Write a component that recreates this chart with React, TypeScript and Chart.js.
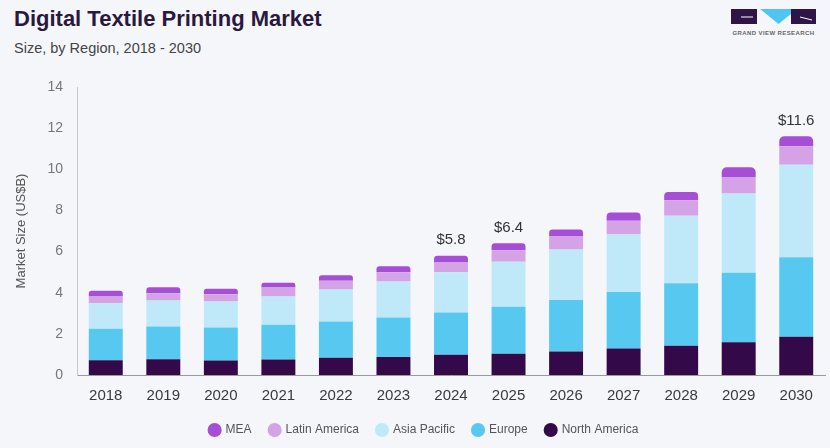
import React, { useEffect, useRef } from "react";
import { Chart, registerables } from "chart.js";

Chart.register(...registerables);

// Market size by region, US$ billion
const years = ["2018", "2019", "2020", "2021", "2022", "2023", "2024", "2025", "2026", "2027", "2028", "2029", "2030"];
const northAmerica = [0.72, 0.77, 0.70, 0.75, 0.84, 0.87, 0.98, 1.03, 1.14, 1.29, 1.42, 1.59, 1.86];
const europe = [1.53, 1.59, 1.61, 1.69, 1.76, 1.93, 2.06, 2.29, 2.50, 2.75, 3.04, 3.38, 3.87];
const asiaPacific = [1.24, 1.26, 1.26, 1.38, 1.56, 1.75, 1.96, 2.18, 2.46, 2.82, 3.28, 3.85, 4.49];
const latinAmerica = [0.33, 0.36, 0.36, 0.43, 0.42, 0.45, 0.47, 0.57, 0.63, 0.64, 0.76, 0.78, 0.90];
const mea = [0.27, 0.29, 0.26, 0.23, 0.27, 0.29, 0.33, 0.33, 0.34, 0.40, 0.39, 0.50, 0.48];
// Years whose total is printed above the bar
const labelledYears = ["2024", "2025", "2030"];
const yTicks = [0, 2, 4, 6, 8, 10, 12, 14];

const BG = "#f4f6fa";
const FONT = "'Liberation Sans', Arial, Helvetica, sans-serif";
// Legend keeps wide horizontal spacing but sits closer to the axis labels
const LEGEND_TIGHTEN = 11;
const LEGEND_SHIFT_X = 6;

const totalLabels = {
  id: "totalLabels",
  afterDatasetsDraw(chart: any) {
    const { ctx } = chart;
    const top = chart.getDatasetMeta(chart.data.datasets.length - 1);
    ctx.save();
    ctx.font = `15px ${FONT}`;
    ctx.fillStyle = "#333333";
    ctx.textAlign = "center";
    ctx.textBaseline = "bottom";
    years.forEach((y, i) => {
      if (!labelledYears.includes(y)) return;
      const total =
        northAmerica[i] + europe[i] + asiaPacific[i] + latinAmerica[i] + mea[i];
      const el = top.data[i];
      ctx.fillText(`$${total.toFixed(1)}`, el.x, el.y - 8);
    });
    ctx.restore();
  },
};

const legendSpacing = {
  id: "legendSpacing",
  beforeLayout(chart: any) {
    const lg = chart.legend;
    if (lg && !lg._tightened) {
      const fit = lg.fit;
      lg.fit = function () {
        fit.call(this);
        this.height -= LEGEND_TIGHTEN;
      };
      lg._tightened = true;
    }
  },
  afterLayout(chart: any) {
    const lg = chart.legend;
    if (lg) {
      lg.top -= LEGEND_TIGHTEN;
      lg.height += LEGEND_TIGHTEN;
      lg.left += LEGEND_SHIFT_X;
      lg.right += LEGEND_SHIFT_X;
    }
  },
};

function Logo() {
  return (
    <svg width={100} height={40} style={{ position: "absolute", left: 724, top: 4 }}>
      <rect x={7} y={5} width={26} height={15} fill="#2f1447" />
      <path d="M17 13 H29" stroke="#ffffff" strokeWidth={1} />
      <polygon points="36,5 73,5 54.5,20" fill="#4fc6f1" />
      <rect x={67} y={5} width={25} height={15} fill="#2f1447" />
      <path d="M76 13 L88 16" stroke="#ffffff" strokeWidth={1} />
      <text
        x={49.5}
        y={31}
        textAnchor="middle"
        fontFamily={FONT}
        fontSize={6}
        fontWeight="bold"
        fill="#666"
        letterSpacing={0.4}
      >
        GRAND VIEW RESEARCH
      </text>
    </svg>
  );
}

export default function App() {
  const canvasRef = useRef<HTMLCanvasElement | null>(null);

  useEffect(() => {
    document.body.style.margin = "0";
    document.body.style.background = BG;
    const canvas = canvasRef.current;
    if (!canvas) return;
    const mk = (label: string, data: number[], color: string, extra: any = {}) => ({
      label,
      data,
      backgroundColor: color,
      borderWidth: 0,
      categoryPercentage: 0.59,
      barPercentage: 1,
      ...extra,
    });
    const chart = new Chart(canvas, {
      type: "bar",
      data: {
        labels: years,
        datasets: [
          mk("North America", northAmerica, "#33094a"),
          mk("Europe", europe, "#57c9f1"),
          mk("Asia Pacific", asiaPacific, "#bfe9f9"),
          mk("Latin America", latinAmerica, "#d4a3e6"),
          mk("MEA", mea, "#a64fd6", {
            borderRadius: { topLeft: 5, topRight: 5, bottomLeft: 0, bottomRight: 0 },
            borderSkipped: false,
          }),
        ],
      },
      options: {
        responsive: false,
        animation: false,
        maintainAspectRatio: false,
        layout: { padding: { top: 27, right: 5, left: 11, bottom: 2 } },
        plugins: {
          legend: {
            position: "bottom",
            reverse: true,
            labels: {
              usePointStyle: true,
              pointStyle: "circle",
              boxWidth: 10,
              boxHeight: 10,
              padding: 18,
              color: "#555555",
              font: { family: FONT, size: 12 },
            },
          },
          tooltip: { enabled: false },
        },
        scales: {
          x: {
            stacked: true,
            offset: true,
            grid: { display: false, drawTicks: false },
            border: { color: "#9a9a9a", width: 1 },
            ticks: {
              color: "#3a3a3a",
              padding: 12,
              font: { family: FONT, size: 15 },
            },
          },
          y: {
            stacked: true,
            min: 0,
            max: 14,
            afterBuildTicks: (scale: any) => {
              scale.ticks = yTicks.map((v) => ({ value: v }));
            },
            afterFit: (scale: any) => {
              scale.width = 66;
            },
            grid: { display: false, drawTicks: false },
            border: { color: "#c8c8c8", width: 1 },
            ticks: {
              color: "#777777",
              padding: 14,
              font: { family: FONT, size: 14 },
            },
            title: {
              display: true,
              text: "Market Size (US$B)",
              color: "#555555",
              font: { family: FONT, size: 13 },
              padding: { top: 3, bottom: 0 },
            },
          },
        },
      },
      plugins: [totalLabels, legendSpacing],
    });
    return () => chart.destroy();
  }, []);

  return (
    <div
      style={{
        position: "fixed",
        left: 0,
        top: 0,
        width: 830,
        height: 448,
        background: BG,
        fontFamily: FONT,
        overflow: "hidden",
      }}
    >
      <div
        style={{
          position: "absolute",
          left: 14,
          top: 6,
          fontSize: 22,
          fontWeight: "bold",
          color: "#2a1840",
        }}
      >
        Digital Textile Printing Market
      </div>
      <div style={{ position: "absolute", left: 14, top: 40, fontSize: 14.5, color: "#444444" }}>
        Size, by Region, 2018 - 2030
      </div>
      <Logo />
      <canvas
        ref={canvasRef}
        width={830}
        height={388}
        style={{ position: "absolute", left: 0, top: 60, width: 830, height: 388 }}
      />
    </div>
  );
}
